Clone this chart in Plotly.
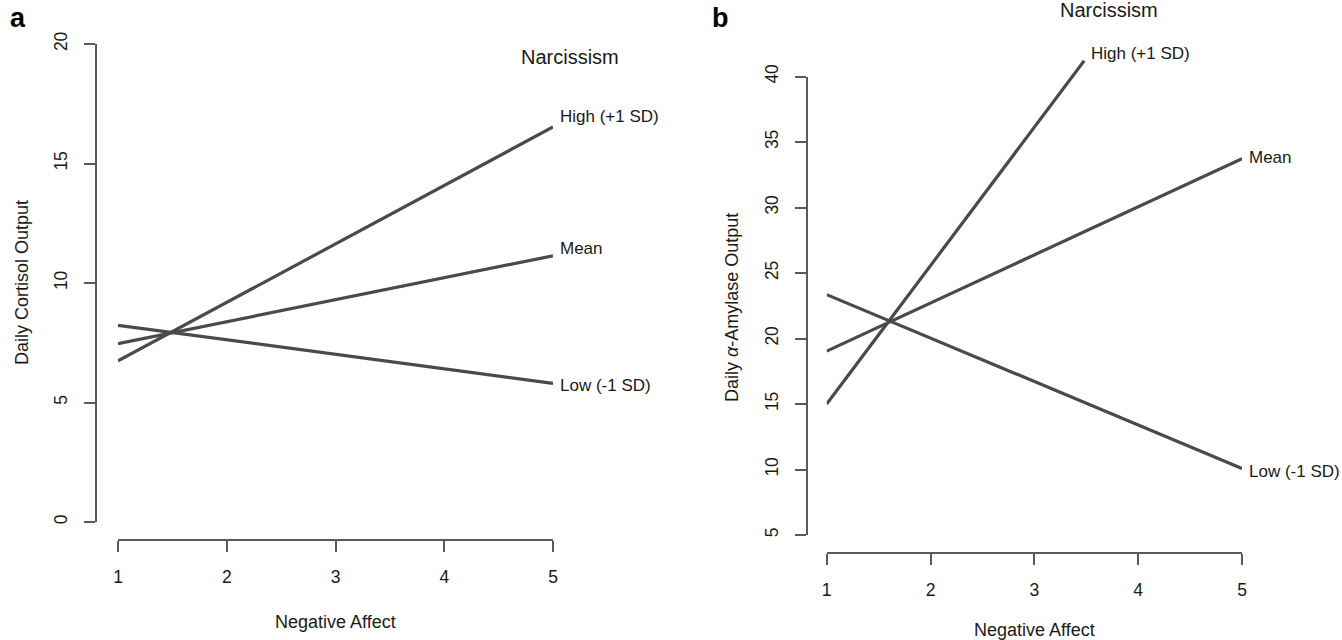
import plotly.graph_objects as go

# ---------------- data ----------------
negative_affect = [1, 5]
x_ticks = [1, 2, 3, 4, 5]

cortisol_ticks = [0, 5, 10, 15, 20]
cortisol_high = [6.74, 16.53]
cortisol_mean = [7.46, 11.14]
cortisol_low = [8.23, 5.80]

amylase_ticks = [5, 10, 15, 20, 25, 30, 35, 40]
amylase_high_x = [1, 3.48]
amylase_high = [15.0, 41.2]
amylase_mean = [19.04, 33.73]
amylase_low = [23.35, 10.08]

series_labels = ["High (+1 SD)", "Mean", "Low (-1 SD)"]

# ---------------- layout helpers ----------------
W, H = 1342, 640
FONT = "Liberation Sans, Arial, Helvetica, sans-serif"
TXT = "#1a1a1a"
AXC = "#5a5a5a"
LINEC = "#4a4a4a"


def fx(px):
    return px / W


def fy(py):
    return 1 - py / H


def hidden_domain(v0, v1, p0, p1, pad):
    # v0 -> pixel p0 (bottom), v1 -> pixel p1 (top)
    ppu = (p0 - p1) / (v1 - v0)
    return [fy(p0 + pad * ppu), fy(p1 - pad * ppu)], [v0 - pad, v1 + pad]


fig = go.Figure()

# panel geometry (pixels)
L_x = (118, 553)
L_y = (522, 44)      # value 0 -> 522, value 20 -> 44
R_x = (826.7, 1242)
R_y = (535, 76.5)    # value 5 -> 535, value 40 -> 76.5

axis_common = dict(
    showgrid=False, zeroline=False, showline=True, linecolor=AXC, linewidth=1.8,
    ticks="outside", ticklen=11, tickwidth=1.8, tickcolor=AXC,
    tickfont=dict(family=FONT, size=17.5, color=TXT), anchor="free",
    fixedrange=True, automargin=False,
)

fig.update_layout(
    xaxis=dict(axis_common, domain=[fx(L_x[0]), fx(L_x[1])], range=[1, 5],
               tickvals=x_ticks, position=fy(540), ticklabelstandoff=10),
    yaxis=dict(axis_common, domain=[fy(L_y[0]), fy(L_y[1])], range=[0, 20],
               tickvals=cortisol_ticks, position=fx(96), tickangle=-90,
               ticklabelstandoff=10),
    xaxis2=dict(axis_common, domain=[fx(R_x[0]), fx(R_x[1])], range=[1, 5],
                tickvals=x_ticks, position=fy(553), ticklabelstandoff=10),
    yaxis2=dict(axis_common, domain=[fy(R_y[0]), fy(R_y[1])], range=[5, 40],
                tickvals=amylase_ticks, position=fx(807), tickangle=-90,
                ticklabelstandoff=10),
)

dL, rL = hidden_domain(0, 20, L_y[0], L_y[1], 1.5)
dR, rR = hidden_domain(5, 40, R_y[0], R_y[1], 3)
fig.update_layout(
    yaxis3=dict(domain=dL, range=rL, visible=False, anchor="free", position=0,
                fixedrange=True, automargin=False),
    yaxis4=dict(domain=dR, range=rR, visible=False, anchor="free", position=0,
                fixedrange=True, automargin=False),
)

# dummy traces so the visible axes are drawn
for xa, ya in (("x", "y"), ("x2", "y2")):
    fig.add_trace(go.Scatter(x=[None], y=[None], xaxis=xa, yaxis=ya,
                             showlegend=False, hoverinfo="skip"))

line_style = dict(color=LINEC, width=3.2)

# panel a
for yv, name in zip((cortisol_high, cortisol_mean, cortisol_low), series_labels):
    fig.add_trace(go.Scatter(x=negative_affect, y=yv, mode="lines", line=line_style,
                             xaxis="x", yaxis="y3", name=name, showlegend=False))
# panel b
for xv, yv, name in zip((amylase_high_x, negative_affect, negative_affect),
                        (amylase_high, amylase_mean, amylase_low), series_labels):
    fig.add_trace(go.Scatter(x=xv, y=yv, mode="lines", line=line_style,
                             xaxis="x2", yaxis="y4", name=name, showlegend=False))

ann = []
lab_font = dict(family=FONT, size=17, color=TXT)
# series labels at line ends
for xv, yv, name, ys in zip((negative_affect,) * 3,
                            (cortisol_high, cortisol_mean, cortisol_low),
                            series_labels, (10, 7, -2)):
    ann.append(dict(x=xv[-1], y=yv[-1], xref="x", yref="y3", text=name,
                    showarrow=False, xanchor="left", yanchor="middle",
                    xshift=5, yshift=ys, font=lab_font))
for xv, yv, name, ys in zip((amylase_high_x, negative_affect, negative_affect),
                            (amylase_high, amylase_mean, amylase_low),
                            series_labels, (7, 1, -3)):
    ann.append(dict(x=xv[-1], y=yv[-1], xref="x2", yref="y4", text=name,
                    showarrow=False, xanchor="left", yanchor="middle",
                    xshift=5, yshift=ys, font=lab_font))

big = dict(family=FONT, size=20, color=TXT)
ann.append(dict(x=fx(570), y=fy(57), xref="paper", yref="paper", text="Narcissism",
                showarrow=False, xanchor="center", yanchor="middle", font=big))
ann.append(dict(x=fx(1109), y=fy(10.5), xref="paper", yref="paper", text="Narcissism",
                showarrow=False, xanchor="center", yanchor="middle", font=big))

title_font = dict(family=FONT, size=18, color=TXT)
ann.append(dict(x=fx(335.5), y=fy(622), xref="paper", yref="paper",
                text="Negative Affect", showarrow=False, xanchor="center",
                yanchor="middle", font=title_font))
ann.append(dict(x=fx(1034), y=fy(630), xref="paper", yref="paper",
                text="Negative Affect", showarrow=False, xanchor="center",
                yanchor="middle", font=title_font))
ann.append(dict(x=fx(22), y=fy(283), xref="paper", yref="paper",
                text="Daily Cortisol Output", showarrow=False, textangle=-90,
                xanchor="center", yanchor="middle", font=title_font))
ann.append(dict(x=fx(732), y=fy(308), xref="paper", yref="paper",
                text="Daily <i>\u03b1</i>-Amylase Output", showarrow=False,
                textangle=-90, xanchor="center", yanchor="middle", font=title_font))

panel_font = dict(family=FONT, size=27, color="#000000", weight="bold")
ann.append(dict(x=fx(18), y=fy(18), xref="paper", yref="paper", text="<b>a</b>",
                showarrow=False, xanchor="center", yanchor="middle", font=panel_font))
ann.append(dict(x=fx(721), y=fy(18), xref="paper", yref="paper", text="<b>b</b>",
                showarrow=False, xanchor="center", yanchor="middle", font=panel_font))

fig.update_layout(
    annotations=ann,
    width=W, height=H,
    margin=dict(l=0, r=0, t=0, b=0, pad=0, autoexpand=False),
    paper_bgcolor="white", plot_bgcolor="rgba(0,0,0,0)",
    showlegend=False,
)

fig.write_html(
    "out.html",
    config={"displayModeBar": False},
    post_script="document.body.style.margin='0';document.body.style.overflow='hidden';",
)
